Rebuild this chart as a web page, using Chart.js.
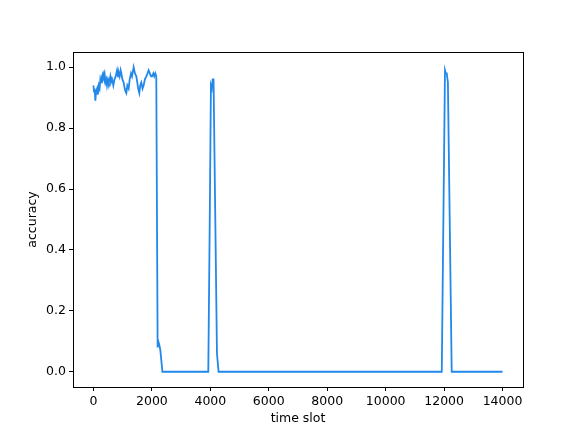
<!DOCTYPE html>
<html>
<head>
<meta charset="utf-8">
<script src="https://cdn.jsdelivr.net/npm/chart.js@4/dist/chart.umd.min.js"></script>
<style>
  html, body { margin: 0; padding: 0; background: #fff; }
</style>
</head>
<body>
<canvas id="accChart" width="581" height="435"></canvas>
<script>
// values
const timeSlots = [
    0, 20, 40, 65, 90, 123, 150, 180, 210, 236, 260, 290, 328, 350, 380, 410, 440, 465, 500, 530,
    578, 600, 640, 680, 720, 760, 807, 840, 870, 896, 930, 954, 990, 1033, 1070, 1100, 1125, 1160, 1204, 1240,
    1286, 1320, 1375, 1420, 1467, 1500, 1530, 1570, 1600, 1638, 1680, 1717, 1760, 1809, 1850, 1888, 1930, 1970, 2004, 2050,
    2080, 2117, 2150, 2196, 2220, 2250, 2290, 2360,
    3930, 3980, 4020, 4050, 4080, 4110, 4227, 4282,
    11920, 12030, 12060, 12090, 12130, 12260,
    14000
];
const accuracy = [
    0.94, 0.92, 0.93, 0.89, 0.92, 0.93, 0.91, 0.94, 0.93, 0.96, 0.95, 0.97, 0.98, 0.97, 0.98, 0.95, 0.96, 0.94, 0.96, 0.95,
    0.97, 0.95, 0.96, 0.94, 0.96, 0.97, 0.99, 0.97, 0.98, 0.97, 0.99, 0.98, 0.96, 0.95, 0.93, 0.92, 0.915, 0.94, 0.93, 0.96,
    0.98, 0.97, 1.0, 0.98, 0.97, 0.95, 0.93, 0.915, 0.94, 0.95, 0.93, 0.94, 0.96, 0.97, 0.98, 0.99, 0.98, 0.97, 0.97, 0.98,
    0.97, 0.98, 0.97, 0.08, 0.1, 0.09, 0.07, 0.0,
    0.0, 0.5, 0.94, 0.93, 0.96, 0.96, 0.06, 0.0,
    0.0, 0.99, 0.98, 0.98, 0.95, 0.0,
    0.0
];
const xTicks = [0, 2000, 4000, 6000, 8000, 10000, 12000, 14000];
const yTicks = [0.0, 0.2, 0.4, 0.6, 0.8, 1.0];

const points = timeSlots.map((t, i) => ({ x: t, y: accuracy[i] }));
const tickFont = { family: "DejaVu Sans", size: 12.5 };

// frame around the plot area, like matplotlib's spines
const frameBox = {
    id: "frameBox",
    afterDraw(chart) {
        const a = chart.chartArea;
        const c = chart.ctx;
        c.save();
        c.strokeStyle = "#000";
        c.lineWidth = 1;
        c.strokeRect(Math.round(a.left) + 0.5, Math.round(a.top) + 0.5,
            Math.round(a.right - a.left), Math.round(a.bottom - a.top));
        c.restore();
    }
};

const ctx = document.getElementById("accChart").getContext("2d");
const chart = new Chart(ctx, {
    type: "line",
    data: {
        datasets: [{
            data: points,
            borderColor: "#2288ea",
            borderWidth: 1.8,
            pointRadius: 0,
            tension: 0,
            fill: false
        }]
    },
    options: {
        responsive: false,
        animation: false,
        layout: { padding: { left: 0, top: 52, right: 58, bottom: 0 } },
        plugins: { legend: { display: false }, tooltip: { enabled: false } },
        scales: {
            x: {
                type: "linear",
                min: -700,
                max: 14700,
                afterBuildTicks: axis => { axis.ticks = xTicks.map(v => ({ value: v })); },
                afterFit: axis => { axis.height = 48; },
                border: { display: false },
                grid: { drawOnChartArea: false, drawTicks: true, tickLength: 4, color: "#000" },
                ticks: { color: "#000", font: tickFont, padding: 3, maxRotation: 0, autoSkip: false, callback: v => String(v) },
                title: { display: true, text: "time slot", color: "#000", font: tickFont, padding: { top: 0, bottom: 8.5 } }
            },
            y: {
                min: -0.05,
                max: 1.05,
                afterBuildTicks: axis => { axis.ticks = yTicks.map(v => ({ value: v })); },
                afterFit: axis => { axis.width = 73; },
                border: { display: false },
                grid: { drawOnChartArea: false, drawTicks: true, tickLength: 4, color: "#000" },
                ticks: { color: "#000", font: tickFont, padding: 3, autoSkip: false, callback: v => v.toFixed(1) },
                title: { display: true, text: "accuracy", color: "#000", font: tickFont, padding: { top: 25.5, bottom: 0 } }
            }
        }
    },
    plugins: [frameBox]
});
</script>
</body>
</html>
